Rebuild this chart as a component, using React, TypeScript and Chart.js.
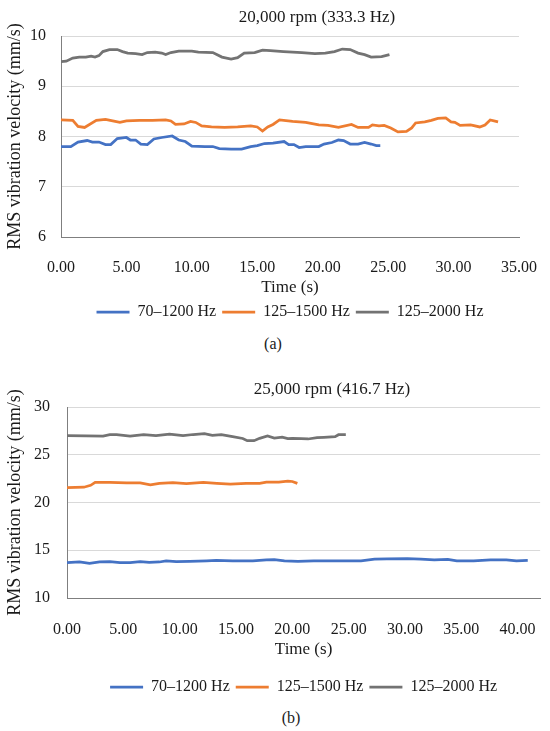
import React, { useEffect, useRef } from "react";
import { Chart, registerables } from "chart.js";

Chart.register(...registerables);

const FONT = "'Liberation Serif', 'Times New Roman', serif";
const INK = "#1a1a1a";
const BLUE = "#4472C4";
const ORANGE = "#ED7D31";
const GREY = "#737373";

const SERIES_LABELS = ["70–1200 Hz", "125–1500 Hz", "125–2000 Hz"];

const X_TICKS_A = [0, 5, 10, 15, 20, 25, 30, 35];
const X_TICKS_B = [0, 5, 10, 15, 20, 25, 30, 35, 40];

// (a) 20,000 rpm
const a_blue_t = [0, 0.75, 1.3, 2.0, 2.4, 2.9, 3.4, 3.8, 4.3, 5.0, 5.3, 5.7, 6.1, 6.6, 7.1, 7.7, 8.5, 9.0, 9.5, 10.0, 11.0, 11.6, 12.1, 13.0, 13.8, 14.5, 15.0, 15.55, 16.2, 17.05, 17.4, 17.8, 18.2, 18.7, 19.7, 20.1, 20.7, 21.2, 21.6, 22.1, 22.7, 23.2, 23.7, 24.1, 24.4];
const a_blue_v = [7.8, 7.8, 7.89, 7.92, 7.89, 7.89, 7.84, 7.84, 7.96, 7.98, 7.93, 7.93, 7.85, 7.84, 7.95, 7.98, 8.01, 7.93, 7.9, 7.81, 7.8, 7.8, 7.76, 7.75, 7.75, 7.8, 7.82, 7.86, 7.87, 7.9, 7.84, 7.84, 7.78, 7.8, 7.8, 7.85, 7.88, 7.93, 7.92, 7.85, 7.85, 7.88, 7.85, 7.82, 7.82];

const a_orange_t = [0, 0.9, 1.3, 1.8, 2.7, 3.4, 3.95, 4.5, 5.0, 6.0, 7.0, 8.0, 8.4, 8.75, 9.4, 9.9, 10.3, 10.75, 11.5, 12.5, 13.5, 14.5, 15.0, 15.4, 15.8, 16.2, 16.7, 17.7, 18.7, 19.7, 20.4, 21.2, 22.2, 22.7, 23.5, 23.8, 24.3, 24.7, 25.2, 25.75, 26.4, 26.8, 27.1, 27.8, 28.3, 28.8, 29.4, 29.8, 30.1, 30.5, 31.3, 32.0, 32.4, 32.8, 33.4];
const a_orange_v = [8.33, 8.32, 8.2, 8.18, 8.32, 8.34, 8.31, 8.28, 8.31, 8.32, 8.32, 8.33, 8.31, 8.24, 8.25, 8.3, 8.28, 8.21, 8.19, 8.18, 8.19, 8.21, 8.19, 8.11, 8.19, 8.24, 8.33, 8.3, 8.28, 8.23, 8.22, 8.18, 8.24, 8.18, 8.18, 8.23, 8.21, 8.22, 8.17, 8.09, 8.1, 8.17, 8.27, 8.29, 8.32, 8.36, 8.37, 8.29, 8.28, 8.22, 8.23, 8.19, 8.23, 8.33, 8.29];

const a_grey_t = [0, 0.4, 0.9, 1.4, 1.9, 2.3, 2.6, 2.9, 3.2, 3.7, 4.3, 4.7, 5.1, 5.7, 6.2, 6.6, 7.2, 7.7, 8.0, 8.4, 9.0, 10.0, 10.5, 11.6, 12.3, 13.0, 13.5, 14.0, 14.8, 15.4, 16.0, 17.0, 18.4, 19.4, 20.2, 20.9, 21.5, 22.1, 22.7, 23.2, 23.7, 24.5, 25.1];
const a_grey_v = [9.49, 9.5, 9.56, 9.58, 9.58, 9.6, 9.58, 9.61, 9.69, 9.73, 9.73, 9.69, 9.66, 9.65, 9.63, 9.67, 9.68, 9.66, 9.63, 9.67, 9.7, 9.7, 9.68, 9.67, 9.58, 9.54, 9.57, 9.66, 9.67, 9.72, 9.71, 9.69, 9.67, 9.65, 9.66, 9.69, 9.74, 9.73, 9.66, 9.63, 9.58, 9.59, 9.63];

// (b) 25,000 rpm
const b_blue_t = [0, 1.1, 2.0, 2.9, 3.8, 4.7, 5.6, 6.5, 7.3, 8.2, 8.8, 9.7, 10.9, 12.4, 13.25, 14.7, 16.5, 17.7, 18.4, 19.3, 20.5, 21.9, 23.7, 26.1, 27.3, 28.4, 30.2, 31.4, 32.6, 33.8, 34.6, 36.1, 37.6, 39.0, 39.9, 40.9];
const b_blue_v = [13.7, 13.77, 13.63, 13.77, 13.8, 13.7, 13.7, 13.8, 13.74, 13.77, 13.88, 13.8, 13.84, 13.9, 13.94, 13.88, 13.88, 13.98, 14.02, 13.88, 13.84, 13.88, 13.88, 13.9, 14.06, 14.1, 14.13, 14.06, 13.98, 14.05, 13.88, 13.9, 13.98, 14.0, 13.88, 13.94];

const b_orange_t = [0, 1.5, 2.1, 2.5, 3.8, 5.3, 6.5, 7.4, 8.2, 9.4, 10.6, 12.1, 13.3, 14.5, 15.9, 17.1, 17.7, 18.8, 19.6, 20.0, 20.45];
const b_orange_v = [21.55, 21.6, 21.8, 22.1, 22.1, 22.05, 22.05, 21.85, 22.0, 22.07, 21.97, 22.1, 22.0, 21.93, 22.0, 22.0, 22.13, 22.13, 22.25, 22.2, 22.0];

const b_grey_t = [0, 1.7, 3.2, 3.8, 4.4, 5.6, 6.8, 7.9, 9.1, 10.3, 11.2, 12.2, 12.9, 13.7, 14.7, 15.6, 16.0, 16.6, 17.1, 17.8, 18.4, 19.1, 19.6, 20.0, 20.8, 21.4, 22.2, 22.8, 23.8, 24.1, 24.75];
const b_grey_v = [27.0, 26.97, 26.95, 27.1, 27.1, 26.95, 27.1, 27.0, 27.17, 27.0, 27.12, 27.2, 27.03, 27.1, 26.9, 26.7, 26.47, 26.47, 26.72, 26.97, 26.75, 26.85, 26.7, 26.72, 26.68, 26.65, 26.8, 26.83, 26.9, 27.1, 27.1];

function pts(t: number[], v: number[]) {
  return t.map((x, i) => ({ x, y: v[i] }));
}

function makeDatasets(blue: any[], orange: any[], grey: any[]) {
  return [blue, orange, grey].map((data, i) => ({
    label: SERIES_LABELS[i],
    data,
    borderColor: [BLUE, ORANGE, GREY][i],
    backgroundColor: [BLUE, ORANGE, GREY][i],
    borderWidth: 2.75,
    pointRadius: 0,
    tension: 0,
  }));
}

type PanelProps = {
  datasets: any[];
  xTicks: number[];
  xMax: number;
  yMin: number;
  yMax: number;
  yStep: number;
  top: number;
  height: number;
  padTop: number;
  padRight: number;
  yWidth: number;
  yTickPad: number;
  xHeight: number;
  xTickPad: number;
  xTitlePadBottom: number;
};

function Panel(p: PanelProps) {
  const canvasRef = useRef<HTMLCanvasElement>(null);

  useEffect(() => {
    if (!canvasRef.current) return;
    const chart = new Chart(canvasRef.current, {
      type: "line",
      data: { datasets: p.datasets },
      options: {
        animation: false,
        responsive: true,
        maintainAspectRatio: false,
        layout: { padding: { top: p.padTop, right: p.padRight, left: 0, bottom: 0 } },
        plugins: {
          title: { display: false },
          tooltip: { enabled: false },
          legend: {
            position: "bottom",
            fullSize: false,
            labels: {
              usePointStyle: true,
              pointStyle: "line",
              pointStyleWidth: 33,
              padding: 6,
              color: INK,
              font: { family: FONT, size: 16 },
            },
          },
        },
        scales: {
          x: {
            type: "linear",
            min: 0,
            max: p.xMax,
            grid: { display: false },
            border: { display: true, color: "#7f7f7f", width: 1 },
            afterBuildTicks: (scale: any) => {
              scale.ticks = p.xTicks.map((value) => ({ value }));
            },
            afterFit: (scale: any) => {
              scale.height = p.xHeight;
            },
            ticks: {
              padding: p.xTickPad,
              maxRotation: 0,
              autoSkip: false,
              color: INK,
              font: { family: FONT, size: 16 },
              callback: (v: any) => Number(v).toFixed(2),
            },
            title: {
              display: true,
              text: "Time (s)",
              color: INK,
              font: { family: FONT, size: 17 },
              padding: { top: 0, bottom: p.xTitlePadBottom },
            },
          },
          y: {
            min: p.yMin,
            max: p.yMax,
            grid: { color: "#d9d9d9", lineWidth: 1, drawTicks: false },
            border: { display: true, color: "#7f7f7f", width: 1 },
            afterFit: (scale: any) => {
              scale.width = p.yWidth;
            },
            ticks: {
              stepSize: p.yStep,
              padding: p.yTickPad,
              color: INK,
              font: { family: FONT, size: 16 },
            },
            title: {
              display: true,
              text: "RMS vibration velocity (mm/s)",
              color: INK,
              font: { family: FONT, size: 18 },
              padding: { top: 4, bottom: 0 },
            },
          },
        },
      },
    });
    return () => chart.destroy();
  }, []);

  return (
    <div style={{ position: "absolute", left: 0, top: p.top, width: 550, height: p.height }}>
      <canvas ref={canvasRef} />
    </div>
  );
}

function Label({ text, cx, top, size }: { text: string; cx: number; top: number; size: number }) {
  return (
    <div
      style={{
        position: "absolute",
        left: cx,
        top,
        transform: "translateX(-50%)",
        whiteSpace: "nowrap",
        fontFamily: FONT,
        fontSize: size,
        lineHeight: "20px",
        color: INK,
      }}
    >
      {text}
    </div>
  );
}

export default function App() {
  const dsA = makeDatasets(pts(a_blue_t, a_blue_v), pts(a_orange_t, a_orange_v), pts(a_grey_t, a_grey_v));
  const dsB = makeDatasets(pts(b_blue_t, b_blue_v), pts(b_orange_t, b_orange_v), pts(b_grey_t, b_grey_v));

  return (
    <div style={{ position: "absolute", left: 0, top: 0, width: 550, height: 731, background: "#fff" }}>
      <Panel
        datasets={dsA}
        xTicks={X_TICKS_A}
        xMax={35}
        yMin={6}
        yMax={10}
        yStep={1}
        top={0}
        height={330}
        padTop={36}
        padRight={26}
        yWidth={61}
        yTickPad={15}
        xHeight={61}
        xTickPad={13}
        xTitlePadBottom={0}
      />
      <Label text="20,000 rpm (333.3 Hz)" cx={317} top={7} size={17} />
      <Label text="(a)" cx={273} top={334} size={16} />

      <Panel
        datasets={dsB}
        xTicks={X_TICKS_B}
        xMax={42}
        yMin={10}
        yMax={30}
        yStep={5}
        top={365}
        height={340}
        padTop={42}
        padRight={8}
        yWidth={67}
        yTickPad={17}
        xHeight={75}
        xTickPad={14}
        xTitlePadBottom={13}
      />
      <Label text="25,000 rpm (416.7 Hz)" cx={332} top={379} size={17} />
      <Label text="(b)" cx={291} top={708} size={16} />
    </div>
  );
}
